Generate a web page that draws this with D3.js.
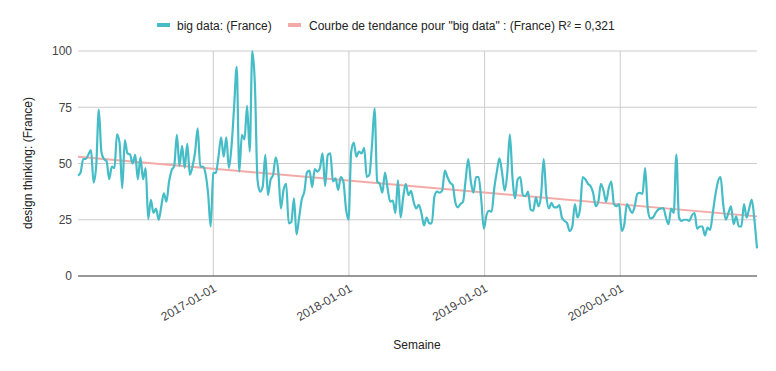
<!DOCTYPE html>
<html>
<head>
<meta charset="utf-8">
<script src="https://cdn.jsdelivr.net/npm/d3@7"></script>
<style>
  body { margin: 0; background: #fff; }
  text { font-family: Arial, "Liberation Sans", sans-serif; }
</style>
</head>
<body>
<script>
var width = 776,
    height = 371;

// weekly values, first week 2016-01-03
var firstWeek = "2016-01-03";
var values = [
  44.6, 46, 52, 52, 54, 56, 41.5, 49, 74, 55,
  52, 51, 43, 48.6, 48, 63, 59, 39, 60.4, 54.5,
  54, 50, 53.8, 43, 52.7, 43, 48, 25.3, 33.8, 28,
  30, 25, 30.8, 36.7, 33, 42, 47, 49, 62.7, 49,
  57.8, 48, 58.7, 45, 48.6, 55, 65.6, 48.6, 48.6, 45.6,
  36.7, 22, 45.6, 46, 53, 61.6, 53, 61.6, 48, 57.5,
  75, 93, 46.4, 62.7, 60.7, 75.6, 55.3, 100, 85, 42.7,
  37.5, 39.7, 53.8, 36, 42.7, 45, 52.7, 46.4, 30, 38.2,
  41, 23.4, 24, 34.5, 18.5, 26, 34, 37.5, 46, 46.8,
  39.5, 47.5, 46.4, 48, 54.5, 40, 53.8, 54.5, 42, 43.4,
  38.2, 44, 42, 30, 25, 55, 59.3, 53, 55.3, 54.5,
  57, 44, 45, 58, 74.5, 42, 41, 37, 46, 39,
  33, 33.5, 28, 42.5, 26, 35, 41, 36, 37.8, 33,
  30, 31.6, 28, 22.5, 26, 23.4, 23.4, 35.3, 37.5, 37,
  38, 46.8, 44, 41.5, 40.5, 33, 30.5, 32, 33, 42.7,
  52, 42, 37, 44, 44, 34, 21, 27, 29, 28.6,
  39, 46.4, 52.3, 46, 38, 45.6, 63, 44, 34.5, 43,
  44, 36, 35.5, 37.5, 29.5, 29, 35, 31, 36, 52,
  36, 30, 32.5, 30.5, 30.5, 31.5, 26, 24.5, 23.5, 20,
  22, 32, 26, 30, 44, 43, 41, 40, 37, 31,
  33, 41, 38, 33, 39, 42, 32, 31, 32, 20,
  23, 32, 30, 28, 31, 36.5, 37, 36.5, 48, 30,
  25.6, 26, 28, 29.5, 30, 30.2, 26, 23, 30, 28,
  54, 26, 24.5, 25, 25, 24.5, 27, 28, 21, 22,
  22, 18, 21.5, 20.5, 28, 36, 42, 44, 32, 25,
  28, 31, 23, 26.5, 22, 22, 32, 26, 30, 34,
  25, 12.3
];

// trend line end values
var trendStart = 53,
    trendEnd = 26.5;

var yTicks = [0, 25, 50, 75, 100];
var xTicks = ["2017-01-01", "2018-01-01", "2019-01-01", "2020-01-01"];

var seriesName = "big data: (France)";
var trendName = "Courbe de tendance pour \"big data\" : (France) R\u00b2 = 0,321";

var parse = d3.timeParse("%Y-%m-%d");
var start = parse(firstWeek);
var data = values.map(function(v, i) {
  return { date: d3.timeWeek.offset(start, i), value: v };
});
var end = data[data.length - 1].date;

var margin = { left: 78, right: 19, top: 51, bottom: 95 };

var x = d3.scaleTime()
  .domain([start, end])
  .range([margin.left, width - margin.right]);

var y = d3.scaleLinear()
  .domain([0, 100])
  .range([height - margin.bottom, margin.top]);

var svg = d3.select("body").append("svg")
  .attr("width", width)
  .attr("height", height);

// gridlines
svg.append("g")
  .selectAll("line")
  .data(yTicks.filter(function(d) { return d > 0; }))
  .enter().append("line")
    .attr("x1", margin.left)
    .attr("x2", width - margin.right)
    .attr("y1", function(d) { return y(d); })
    .attr("y2", function(d) { return y(d); })
    .attr("stroke", "#cccccc");

svg.append("g")
  .selectAll("line")
  .data(xTicks.map(parse))
  .enter().append("line")
    .attr("x1", function(d) { return x(d); })
    .attr("x2", function(d) { return x(d); })
    .attr("y1", y(0))
    .attr("y2", y(100))
    .attr("stroke", "#cccccc");

// y axis
var yAxis = svg.append("g")
  .attr("transform", "translate(" + margin.left + ",0)")
  .call(d3.axisLeft(y).tickValues(yTicks).tickSize(0).tickPadding(6));
yAxis.select(".domain").remove();
yAxis.selectAll("text")
  .attr("font-size", 12)
  .attr("fill", "#444");

// x axis
var xAxis = svg.append("g")
  .attr("transform", "translate(0," + y(0) + ")")
  .call(d3.axisBottom(x).tickValues(xTicks.map(parse)).tickSize(0).tickFormat(d3.timeFormat("%Y-%m-%d")));
xAxis.select(".domain").remove();
xAxis.selectAll("text")
  .attr("font-size", 12)
  .attr("fill", "#444")
  .attr("text-anchor", "end")
  .attr("dy", 0)
  .attr("transform", "translate(2,12) rotate(-30)");

// trend line
svg.append("line")
  .attr("x1", x(start))
  .attr("x2", x(end))
  .attr("y1", y(trendStart))
  .attr("y2", y(trendEnd))
  .attr("stroke", "#f4aaa6")
  .attr("stroke-width", 2);

// series
var line = d3.line()
  .x(function(d) { return x(d.date); })
  .y(function(d) { return y(d.value); })
  .curve(d3.curveMonotoneX);

svg.append("path")
  .datum(data)
  .attr("fill", "none")
  .attr("stroke", "#46bdc6")
  .attr("stroke-width", 2.2)
  .attr("stroke-linejoin", "round")
  .attr("d", line);

// baseline
svg.append("line")
  .attr("x1", margin.left)
  .attr("x2", width - margin.right)
  .attr("y1", y(0))
  .attr("y2", y(0))
  .attr("stroke", "#333");

// axis titles
svg.append("text")
  .attr("x", 417)
  .attr("y", 349)
  .attr("text-anchor", "middle")
  .attr("font-size", 12)
  .attr("fill", "#222")
  .text("Semaine");

svg.append("text")
  .attr("transform", "translate(32,163) rotate(-90)")
  .attr("text-anchor", "middle")
  .attr("font-size", 12)
  .attr("fill", "#222")
  .text("design thinking: (France)");

// legend
var legend = svg.append("g");
legend.append("rect")
  .attr("x", 157).attr("y", 23).attr("width", 13).attr("height", 4)
  .attr("fill", "#46bdc6");
legend.append("text")
  .attr("x", 177).attr("y", 29.5)
  .attr("font-size", 12).attr("fill", "#222")
  .text(seriesName);
legend.append("rect")
  .attr("x", 288).attr("y", 23).attr("width", 13).attr("height", 4)
  .attr("fill", "#f4aaa6");
legend.append("text")
  .attr("x", 309).attr("y", 29.5)
  .attr("font-size", 12).attr("fill", "#222")
  .text(trendName);
</script>
</body>
</html>
